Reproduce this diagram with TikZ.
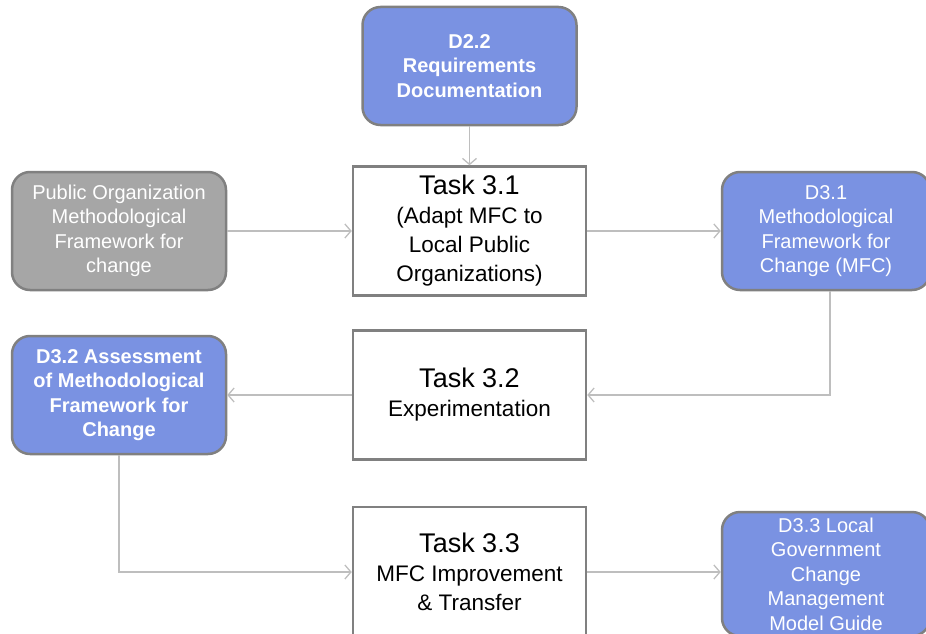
\documentclass[tikz,border=0pt]{standalone}
\usepackage{fontspec}
\setmainfont{Liberation Sans}
\usetikzlibrary{arrows.meta}
\definecolor{delblue}{RGB}{122,146,226}
\definecolor{delgray}{RGB}{166,166,166}
\definecolor{edgegray}{RGB}{128,128,128}
\definecolor{linkgray}{RGB}{190,190,190}
\begin{document}
\begin{tikzpicture}[x=1pt,y=-1pt,
  deliv/.style={draw=edgegray,line width=2.5pt,fill=delblue,rounded corners=18pt,text=white,
    align=center,minimum width=214pt,minimum height=118pt,inner sep=0pt,
    font=\fontsize{20}{24.5}\selectfont},
  boldtext/.style={font=\fontsize{20}{24.5}\selectfont\bfseries},
  input/.style={deliv,fill=delgray},
  task/.style={draw=edgegray,line width=2.5pt,fill=white,align=center,
    minimum width=233pt,minimum height=129pt,inner sep=0pt,
    font=\fontsize{22.5}{29}\selectfont},
  tasktitle/.style={font=\fontsize{27}{30}\selectfont},
  link/.style={draw=linkgray,line width=1.3pt,-{Straight Barb[length=6pt,width=14pt]}}]
\useasboundingbox (0,0) rectangle (926,634);
\clip (0,0) rectangle (926,634);
% deliverables and tasks
\node[deliv,boldtext] (d22) at (469.5,66) {D2.2\\Requirements\\Documentation};
\node[input] (pub) at (119,231) {Public Organization\\Methodological\\Framework for\\change};
\node[task] (t31) at (469.5,231) {{\fontsize{27}{30}\selectfont Task 3.1}\\(Adapt MFC to\\Local Public\\Organizations)};
\node[deliv,minimum width=208pt] (d31) at (826,231) {D3.1\\Methodological\\Framework for\\Change (MFC)};
\node[task] (t32) at (469.5,395) {{\fontsize{27}{30}\selectfont Task 3.2}\\Experimentation};
\node[deliv,boldtext] (d32) at (119,395) {D3.2 Assessment\\of Methodological\\Framework for\\Change};
\node[task,minimum height=130pt] (t33) at (469.5,572) {{\fontsize{27}{30}\selectfont Task 3.3}\\MFC Improvement\\\& Transfer};
\node[deliv,minimum width=208pt,minimum height=124pt] (d33) at (826,574) {D3.3 Local\\Government\\Change\\Management\\Model Guide};
% links
\draw[link] (d22.south -| t31.north) -- (t31.north);
\draw[link] (pub) -- (t31);
\draw[link] (t31) -- (d31);
\draw[link] ([xshift=4pt]d31.south) |- (t32.east);
\draw[link] (t32) -- (d32);
\draw[link] (d32.south) |- (t33.west);
\draw[link] (t33.east) -- (t33.east -| d33.west);
\end{tikzpicture}
\end{document}
